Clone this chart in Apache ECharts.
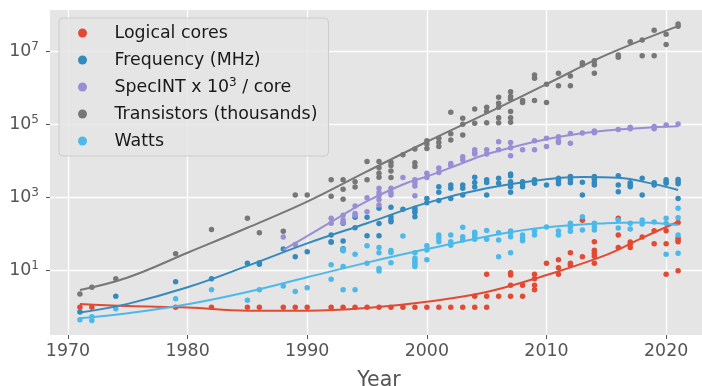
<!DOCTYPE html>
<html>
<head>
<meta charset="utf-8">
<script src="https://cdn.jsdelivr.net/npm/echarts@6/dist/echarts.min.js"></script>
<style>
  html, body { margin: 0; padding: 0; background: #ffffff; }
  #chart { width: 702px; height: 386px; }
</style>
</head>
<body>
<div id="chart"></div>
<script>
// Series names and colours (ggplot-like palette)
const seriesNames = ['Logical cores', 'Frequency (MHz)', 'SpecINT x 10^3 / core', 'Transistors (thousands)', 'Watts'];
const seriesColors = ['#E24A33', '#348ABD', '#988ED5', '#777777', '#4CB9EA'];

// Axis ticks
const yearTicks = [1970, 1980, 1990, 2000, 2010, 2020];
const powerTicks = [10, 1000, 100000, 10000000];

// Measurements: [year, value]
const logicalCores = [[1971,1],[1972,1],[1979,1],[1982,1],[1985,1],[1986,1],[1988,1],[1989,1],[1990,1],[1992,1],[1993,1],[1994,1],[1995,1],[1996,1],[1997,1],[1998,1],[1999,1],[2000,1],[2001,1],[2002,1],[2003,1],[2004,1],[2004,2],[2005,1],[2005,2],[2005,8],[2006,2],[2007,2],[2007,4],[2007,7.6],[2007,8.8],[2008,2],[2008,4],[2009,3],[2009,4],[2009,6],[2009,8],[2010,16],[2011,8],[2011,12],[2011,20],[2012,14],[2012,16],[2012,31],[2013,24],[2013,240],[2014,16],[2014,25],[2014,30],[2014,36],[2014,62],[2016,43],[2016,95],[2016,275],[2017,43],[2017,54],[2017,61],[2018,83],[2019,55],[2019,125],[2020,8],[2020,55],[2020,124],[2021,10],[2021,62],[2021,69],[2021,79],[2021,209]];

const frequencyMHz = [[1971,0.74],[1974,2],[1979,5],[1982,6],[1985,16],[1986,15],[1986,16.6],[1988,39],[1989,24],[1990,33],[1992,60],[1992,62],[1992,95],[1993,37],[1993,40],[1993,65],[1993,200],[1994,150],[1994,290],[1995,91],[1995,290],[1996,91],[1996,195],[1996,510],[1997,220],[1997,245],[1997,300],[1997,550],[1998,480],[1999,300],[1999,390],[1999,440],[1999,510],[2000,720],[2000,950],[2001,830],[2001,1400],[2001,2000],[2002,950],[2002,1800],[2002,2240],[2003,1180],[2003,1800],[2003,2240],[2004,1950],[2004,2600],[2004,3600],[2005,1180],[2005,2600],[2005,3100],[2006,2500],[2006,3400],[2007,1400],[2007,2000],[2007,2240],[2007,2750],[2007,4000],[2007,4470],[2008,2000],[2008,2400],[2008,2750],[2009,2500],[2009,3100],[2010,2240],[2011,2400],[2011,2950],[2011,3400],[2012,2570],[2012,3160],[2012,3800],[2013,1180],[2013,2630],[2014,2240],[2014,2570],[2014,3160],[2014,3800],[2016,1450],[2016,2240],[2016,4000],[2017,2000],[2017,2240],[2017,2570],[2018,1180],[2018,3400],[2019,2240],[2019,2570],[2020,2500],[2020,2750],[2020,3100],[2021,950],[2021,2400],[2021,2750],[2021,3160]];

const specIntPerCore = [[1988,83],[1989,52],[1992,200],[1992,275],[1993,210],[1993,245],[1993,330],[1994,330],[1994,370],[1994,590],[1995,410],[1995,1000],[1996,630],[1996,870],[1996,1120],[1996,1380],[1996,1820],[1997,1180],[1997,1380],[1997,1820],[1998,3550],[1999,1120],[1999,2090],[1999,2570],[1999,3100],[2000,3550],[2000,4680],[2001,4900],[2001,6460],[2002,7600],[2002,8700],[2003,10700],[2003,13200],[2004,15800],[2004,17000],[2004,20400],[2005,15800],[2005,20400],[2006,20400],[2006,33900],[2007,14100],[2007,23400],[2007,32400],[2008,20400],[2009,20400],[2009,36300],[2010,25100],[2010,42700],[2011,32400],[2011,36300],[2011,46800],[2012,30900],[2012,57500],[2013,58900],[2014,60300],[2014,67600],[2016,74100],[2017,77600],[2017,85100],[2019,77600],[2019,89100],[2020,97700],[2021,104700]];

const transistorsK = [[1971,2.3],[1972,3.5],[1974,6],[1979,29],[1982,134],[1985,275],[1986,110],[1988,120],[1989,1180],[1990,1180],[1992,1100],[1992,3100],[1993,910],[1993,1700],[1993,3100],[1994,1950],[1994,2750],[1995,3100],[1995,9800],[1996,3600],[1996,4700],[1996,6600],[1996,9800],[1997,3550],[1997,5400],[1997,7600],[1997,9300],[1998,15000],[1999,7100],[1999,9100],[1999,21400],[2000,22400],[2000,29500],[2000,36300],[2001,25100],[2001,32400],[2001,42700],[2002,38000],[2002,56200],[2002,219000],[2003,52500],[2003,102000],[2003,151000],[2004,110000],[2004,269000],[2005,112000],[2005,229000],[2005,302000],[2006,112000],[2006,155000],[2006,302000],[2006,389000],[2006,562000],[2007,117000],[2007,155000],[2007,229000],[2007,501000],[2007,589000],[2007,794000],[2008,407000],[2008,457000],[2009,457000],[2009,1860000],[2009,2290000],[2010,407000],[2010,1290000],[2011,1170000],[2011,2570000],[2012,1170000],[2012,2140000],[2013,4370000],[2013,5010000],[2014,2570000],[2014,4370000],[2014,5620000],[2016,7080000],[2016,8130000],[2017,18600000],[2018,7760000],[2018,20900000],[2019,7760000],[2019,38900000],[2020,15800000],[2020,30200000],[2021,50100000],[2021,57500000]];

const watts = [[1971,0.45],[1972,0.43],[1972,0.55],[1974,0.9],[1979,1.7],[1982,3],[1985,1.55],[1986,3],[1988,3.8],[1989,2.7],[1990,3.4],[1992,5.8],[1992,14.5],[1993,3],[1993,13],[1993,35],[1993,38],[1994,3],[1994,28],[1995,16],[1995,48],[1996,9.8],[1996,11.5],[1996,31],[1996,43],[1997,16.6],[1997,31.6],[1997,35.5],[1998,89],[1999,13],[1999,14.5],[1999,16.6],[1999,18.6],[1999,22],[1999,31],[2000,20],[2000,37],[2000,48],[2001,62],[2001,78],[2001,95],[2002,50],[2002,62],[2002,95],[2003,69],[2003,85],[2003,155],[2004,72],[2004,85],[2004,100],[2004,112],[2005,72],[2005,126],[2006,24],[2006,69],[2006,110],[2007,31],[2007,85],[2007,110],[2007,123],[2008,66],[2008,78],[2008,95],[2009,95],[2009,123],[2010,158],[2011,95],[2011,123],[2012,120],[2012,155],[2012,200],[2013,130],[2013,300],[2014,130],[2014,158],[2014,200],[2016,148],[2016,245],[2017,138],[2017,200],[2018,190],[2018,245],[2019,214],[2020,28],[2020,200],[2020,275],[2021,30],[2021,95],[2021,280],[2021,510]];

// Trend curves: [year, value]
const coresTrend = [[1971,1.22],[1975,1.07],[1980,0.98],[1985,0.80],[1990,0.80],[1995,0.95],[2000,1.41],[2005,2.6],[2010,7.6],[2015,27],[2018,79],[2021,219]];
const frequencyTrend = [[1971,0.71],[1975,1.23],[1980,3.5],[1985,13.5],[1990,56],[1995,200],[2000,720],[2005,1800],[2010,3200],[2013,3700],[2016,3500],[2019,2350],[2021,1620]];
const specIntTrend = [[1988,37],[1990,89],[1993,340],[1995,800],[1998,2300],[2000,3800],[2003,8900],[2005,15500],[2010,40000],[2015,69000],[2021,91000]];
const transistorsTrend = [[1971,2.95],[1975,6.5],[1980,31],[1985,150],[1990,780],[1995,5250],[2000,34000],[2005,204000],[2010,1290000],[2015,8130000],[2021,50100000]];
const wattsTrend = [[1971,0.5],[1975,0.68],[1980,1.2],[1985,2.6],[1990,6.6],[1995,16.6],[2000,39],[2006,100],[2010,155],[2015,200],[2018,209],[2021,178]];

const measured = [logicalCores, frequencyMHz, specIntPerCore, transistorsK, watts];
const trends = [coresTrend, frequencyTrend, specIntTrend, transistorsTrend, wattsTrend];

const FONT = 'DejaVu Sans';
const TICK_GREY = '#555555';

const series = [];
seriesNames.forEach((name, i) => {
  series.push({
    name: name,
    type: 'scatter',
    data: measured[i],
    symbol: 'circle',
    symbolSize: 5.5,
    itemStyle: { color: seriesColors[i], opacity: 1 },
    emphasis: { disabled: true },
    z: 2
  });
  series.push({
    name: name + ' trend',
    type: 'line',
    data: trends[i],
    smooth: 0.4,
    showSymbol: false,
    symbol: 'none',
    lineStyle: { color: seriesColors[i], width: 2 },
    emphasis: { disabled: true },
    silent: true,
    z: 3
  });
});

const chart = echarts.init(document.getElementById('chart'), null, { renderer: 'canvas' });
chart.setOption({
  animation: false,
  backgroundColor: '#ffffff',
  textStyle: { fontFamily: FONT },
  grid: {
    left: 50, right: -6, top: 10, bottom: 51,
    outerBoundsMode: 'none',
    containLabel: false,
    show: true, backgroundColor: '#E5E5E5', borderWidth: 0
  },
  legend: {
    data: seriesNames.map(n => ({ name: n, icon: 'circle' })),
    orient: 'vertical',
    left: 59, top: 18,
    padding: [5, 11, 5, 19],
    itemWidth: 20, itemHeight: 9,
    itemGap: 7,
    backgroundColor: 'rgba(229,229,229,0.85)',
    borderColor: '#CCCCCC', borderWidth: 1, borderRadius: 4,
    formatter: n => n === 'SpecINT x 10^3 / core' ? 'SpecINT x 10{sup|3} / core' : n,
    textStyle: {
      fontFamily: FONT, fontSize: 17.4, color: '#1a1a1a', lineHeight: 20,
      padding: [0, 0, 0, 17],
      rich: {
        sup: { fontFamily: FONT, fontSize: 12, color: '#1a1a1a', verticalAlign: 'top', lineHeight: 12, padding: [0, 0, 0, 0] }
      }
    },
    selectedMode: false
  },
  xAxis: {
    type: 'value',
    min: 1968.5, max: 2023.5,
    name: 'Year', nameLocation: 'middle', nameGap: 35,
    nameTextStyle: { fontFamily: FONT, fontSize: 20.5, color: TICK_GREY },
    axisLine: { show: false },
    axisTick: { show: true, length: 4, lineStyle: { color: TICK_GREY, width: 1 }, customValues: yearTicks },
    axisLabel: { customValues: yearTicks, margin: 8, fontFamily: FONT, fontSize: 17.4, color: TICK_GREY, formatter: v => String(v) },
    splitLine: { show: true, lineStyle: { color: '#FFFFFF', width: 1.3 } }
  },
  yAxis: {
    type: 'log',
    logBase: 10,
    min: 0.1727, max: 1.386e8,
    axisLine: { show: false },
    axisTick: { show: true, length: 4, lineStyle: { color: TICK_GREY, width: 1 }, customValues: powerTicks },
    axisLabel: {
      customValues: powerTicks, margin: 11,
      fontFamily: FONT, fontSize: 17.4, color: TICK_GREY,
      formatter: v => '{b|10}{s|' + Math.round(Math.log10(v)) + '}',
      rich: {
        b: { fontFamily: FONT, fontSize: 17.4, color: TICK_GREY, lineHeight: 22 },
        s: { fontFamily: FONT, fontSize: 12, color: TICK_GREY, verticalAlign: 'top', lineHeight: 12 }
      }
    },
    splitLine: { show: true, lineStyle: { color: '#FFFFFF', width: 1.3 } }
  },
  series: series
});
</script>
</body>
</html>
